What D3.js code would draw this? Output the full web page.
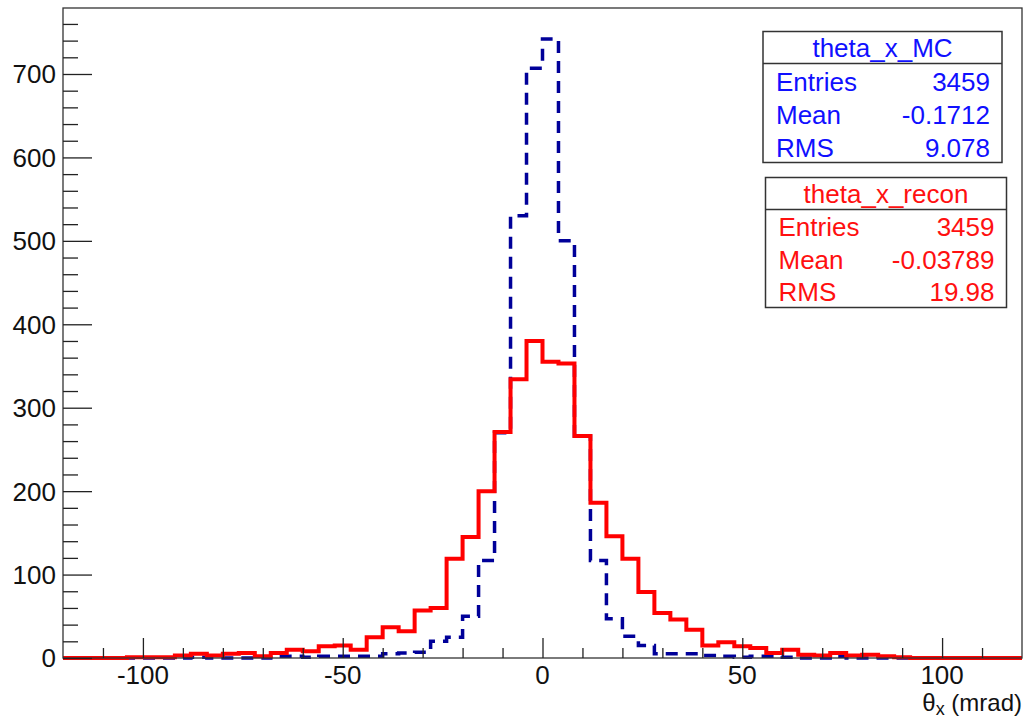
<!DOCTYPE html>
<html>
<head>
<meta charset="utf-8">
<script src="https://cdn.jsdelivr.net/npm/d3@7"></script>
<style>
  html, body { margin: 0; padding: 0; background: #fff; }
  svg { display: block; }
  text { font-family: "Liberation Sans", Arial, Helvetica, sans-serif; }
</style>
</head>
<body>
<div id="chart"></div>
<script>
// ---------- data ----------
// lower edges of the 60 bins (width 4 mrad), theta_x in mrad
const binLow = [-120,-116,-112,-108,-104,-100,-96,-92,-88,-84,-80,-76,-72,-68,-64,-60,-56,-52,-48,-44,
                -40,-36,-32,-28,-24,-20,-16,-12,-8,-4,0,4,8,12,16,20,24,28,32,36,
                40,44,48,52,56,60,64,68,72,76,80,84,88,92,96,100,104,108,112,116];
const binWidth = 4;
// theta_x_MC counts (blue dashed)
const mcCounts = [0,0,0,0,0,0,0,0,1,0,0,0,0,2,2,1,2,2,2,2,
                  5,6,7,20,25,50,117,270,530,707,742,500,266,117,47,26,15,5,5,5,
                  3,2,1,2,2,1,0,0,2,0,0,0,0,0,0,0,0,0,0,0];
// theta_x_recon counts (red solid)
const recoCounts = [0,0,0,0,1,1,1,3,5,3,5,6,2,6,10,8,14,15,10,25,
                    37,32,57,60,119,145,200,271,334,380,355,353,266,186,146,119,79,54,46,34,
                    15,19,14,12,6,10,4,3,6,3,4,2,1,0,0,0,0,0,0,0];
const xMajorTicks = [-100, -50, 0, 50, 100];
const xMinorTicks = [-110,-90,-80,-70,-60,-40,-30,-20,-10,10,20,30,40,60,70,80,90,110];
const yMajorTicks = [0, 100, 200, 300, 400, 500, 600, 700];
const yMinorTicks = [20,40,60,80,120,140,160,180,220,240,260,280,320,340,360,380,
                     420,440,460,480,520,540,560,580,620,640,660,680,720,740,760];
const xDomain = [-120, 120];
const yMax = 742 * 1.05;
const xTitle = "θ";
const xTitleSub = "x";
const xTitleRest = " (mrad)";
const statsMC = { title: "theta_x_MC", rows: [["Entries", "3459"], ["Mean", "-0.1712"], ["RMS", "9.078"]] };
const statsReco = { title: "theta_x_recon", rows: [["Entries", "3459"], ["Mean", "-0.03789"], ["RMS", "19.98"]] };

// ---------- layout ----------
const W = 1025, H = 719;
const plot = { left: 63, right: 1022, top: 8, bottom: 658 };

const svg = d3.select("#chart").append("svg").attr("width", W).attr("height", H);
svg.append("rect").attr("width", W).attr("height", H).attr("fill", "#fff");

const x = d3.scaleLinear().domain(xDomain).range([plot.left, plot.right]);
const y = d3.scaleLinear().domain([0, yMax]).range([plot.bottom, plot.top]);

svg.append("defs").append("clipPath").attr("id", "clip")
  .append("rect").attr("x", plot.left).attr("y", plot.top - 2)
  .attr("width", plot.right - plot.left).attr("height", plot.bottom - plot.top + 4);

function stepPoints(counts) {
  const pts = binLow.map((lo, i) => [lo, counts[i]]);
  pts.push([binLow[binLow.length - 1] + binWidth, counts[counts.length - 1]]);
  return pts;
}
const line = d3.line().x(d => x(d[0])).y(d => y(d[1])).curve(d3.curveStepAfter);

const gHist = svg.append("g").attr("clip-path", "url(#clip)");
gHist.append("path").attr("d", line(stepPoints(mcCounts)))
  .attr("fill", "none").attr("stroke", "#000099").attr("stroke-width", 3.5)
  .attr("stroke-dasharray", "12,8");
gHist.append("path").attr("d", line(stepPoints(recoCounts)))
  .attr("fill", "none").attr("stroke", "#ff0000").attr("stroke-width", 4);

// frame
svg.append("rect").attr("x", plot.left).attr("y", plot.top)
  .attr("width", plot.right - plot.left).attr("height", plot.bottom - plot.top)
  .attr("fill", "none").attr("stroke", "#333").attr("stroke-width", 1.3);

// ---------- x axis ----------
const xAxisMajor = d3.axisTop(x).tickValues(xMajorTicks).tickSize(20).tickFormat("");
const xAxisMinor = d3.axisTop(x).tickValues(xMinorTicks).tickSize(10).tickFormat("");
[xAxisMajor, xAxisMinor].forEach(ax => {
  const g = svg.append("g").attr("transform", `translate(0,${plot.bottom})`).call(ax);
  g.select(".domain").remove();
  g.selectAll(".tick line").attr("stroke", "#222").attr("stroke-width", 1.3);
});
svg.append("g").selectAll("text").data(xMajorTicks).join("text")
  .attr("x", d => x(d)).attr("y", 684).attr("text-anchor", "middle")
  .attr("font-size", 26).attr("fill", "#111").text(d => d);

// x title
const xt = svg.append("text").attr("x", plot.right).attr("y", 711)
  .attr("text-anchor", "end").attr("font-size", 24).attr("fill", "#111");
xt.append("tspan").text(xTitle);
xt.append("tspan").attr("font-size", 18).attr("dy", 4).text(xTitleSub);
xt.append("tspan").attr("dy", -4).text(xTitleRest);

// ---------- y axis ----------
const yAxisMajor = d3.axisRight(y).tickValues(yMajorTicks).tickSize(29).tickFormat("");
const yAxisMinor = d3.axisRight(y).tickValues(yMinorTicks).tickSize(15).tickFormat("");
[yAxisMajor, yAxisMinor].forEach(ax => {
  const g = svg.append("g").attr("transform", `translate(${plot.left},0)`).call(ax);
  g.select(".domain").remove();
  g.selectAll(".tick line").attr("stroke", "#222").attr("stroke-width", 1.3);
});
svg.append("g").selectAll("text").data(yMajorTicks).join("text")
  .attr("x", 56).attr("y", d => y(d)).attr("dy", "0.36em").attr("text-anchor", "end")
  .attr("font-size", 26).attr("fill", "#111").text(d => d);

// ---------- stats boxes ----------
function statsBox(s, box, color) {
  const g = svg.append("g");
  g.append("rect").attr("x", box.x).attr("y", box.y).attr("width", box.w).attr("height", box.h)
    .attr("fill", "#fff").attr("stroke", "#333").attr("stroke-width", 1.5);
  g.append("line").attr("x1", box.x).attr("x2", box.x + box.w)
    .attr("y1", box.sep).attr("y2", box.sep).attr("stroke", "#333").attr("stroke-width", 1.5);
  g.append("text").attr("x", box.x + box.w / 2).attr("y", box.titleY).attr("text-anchor", "middle")
    .attr("font-size", 26).attr("fill", color).text(s.title);
  s.rows.forEach((r, i) => {
    const yy = box.rowY[i];
    g.append("text").attr("x", box.x + 13).attr("y", yy).attr("font-size", 26).attr("fill", color).text(r[0]);
    g.append("text").attr("x", box.x + box.w - 12).attr("y", yy).attr("text-anchor", "end")
      .attr("font-size", 26).attr("fill", color).text(r[1]);
  });
}
statsBox(statsMC, { x: 763, y: 31.5, w: 239, h: 131, sep: 63.5, titleY: 57, rowY: [91, 124, 157] }, "#1010ff");
statsBox(statsReco, { x: 765.5, y: 177.5, w: 241, h: 130, sep: 209.5, titleY: 203, rowY: [236, 269, 301] }, "#ff1010");
</script>
</body>
</html>
